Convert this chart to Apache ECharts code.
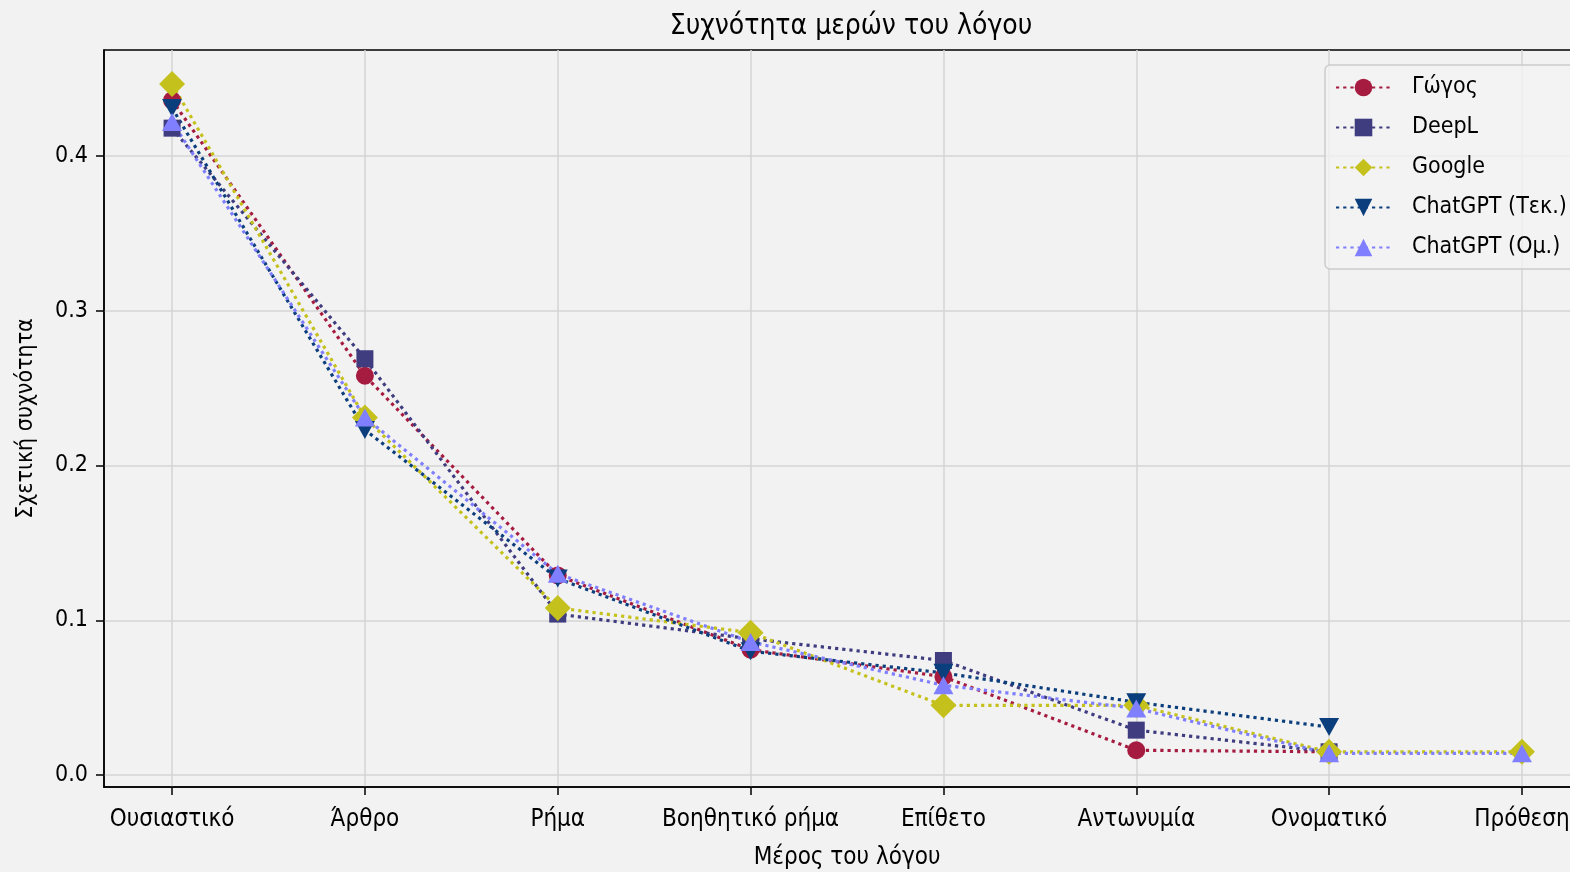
<!DOCTYPE html>
<html>
<head>
<meta charset="utf-8">
<script src="https://cdn.jsdelivr.net/npm/echarts@6/dist/echarts.min.js"></script>
<style>
html,body{margin:0;padding:0;background:#f2f2f2;}
#chart{width:1570px;height:872px;}
</style>
</head>
<body>
<div id="chart"></div>
<script>
const categories = ['Ουσιαστικό','Άρθρο','Ρήμα','Βοηθητικό ρήμα','Επίθετο','Αντωνυμία','Ονοματικό','Πρόθεση'];
const yTicks = [0, 0.1, 0.2, 0.3, 0.4];
const gogos   = [0.436, 0.258, 0.129, 0.081, 0.0635, 0.016, 0.015, null];
const deepl   = [0.418, 0.269, 0.104, 0.088, 0.074, 0.029, 0.015, null];
const google  = [0.4465, 0.231, 0.108, 0.092, 0.045, 0.045, 0.015, 0.015];
const gptTek  = [0.431, 0.223, 0.127, 0.080, 0.066, 0.047, 0.031, null];
const gptOm   = [0.422, 0.231, 0.130, 0.086, 0.058, 0.043, 0.014, 0.014];

const FONT = "'Liberation Sans Narrow', 'DejaVu Sans Condensed', 'Noto Sans', sans-serif";

function pairs(arr){
  const out = [];
  arr.forEach((v,i)=>{ if(v!==null) out.push([i,v]); });
  return out;
}
function mk(name, arr, color, symbol, size, rotate){
  return {
    name: name, type: 'line', data: pairs(arr),
    symbol: symbol, symbolSize: size, symbolRotate: rotate || 0,
    showAllSymbol: true,
    lineStyle: {color: color, width: 3.2, type: [3.2, 4], cap: 'butt'},
    itemStyle: {color: color},
    emphasis: {disabled: true},
    animation: false
  };
}

const chart = echarts.init(document.getElementById('chart'), null, {renderer:'canvas'});
chart.setOption({
  backgroundColor: '#f2f2f2',
  animation: false,
  textStyle: {fontFamily: FONT},
  title: {
    text: 'Συχνότητα μερών του λόγου',
    left: 846, top: 8, textAlign: 'center',
    textStyle: {fontFamily: FONT, fontSize: 28, fontWeight: 'normal', color: '#000'}
  },
  grid: {
    left: 104, top: 50, width: 1486, height: 737,
    outerBoundsMode: 'none',
    show: true, borderColor: '#000', borderWidth: 1.5, backgroundColor: '#f2f2f2',
    containLabel: false
  },
  legend: {
    left: 1325, top: 65, orient: 'vertical',
    itemWidth: 55, itemHeight: 22, itemGap: 17,
    padding: [11, 12, 10, 10],
    backgroundColor: 'rgba(242,242,242,0.8)', borderColor: '#cccccc', borderWidth: 1.5, borderRadius: 5,
    textStyle: {fontFamily: FONT, fontSize: 23, color: '#000', padding: [0,0,0,16]},
    data: ['Γώγος','DeepL','Google','ChatGPT (Τεκ.)','ChatGPT (Ομ.)']
  },
  xAxis: {
    type: 'value', min: -0.353, max: 7.353,
    name: 'Μέρος του λόγου', nameLocation: 'middle', nameGap: 59,
    nameTextStyle: {fontFamily: FONT, fontSize: 24, color: '#000'},
    axisLine: {show: true, onZero: false, lineStyle: {color: '#000', width: 1.5}},
    axisTick: {show: true, length: 8, lineStyle: {color: '#000', width: 1.5}, customValues: [0,1,2,3,4,5,6,7]},
    axisLabel: {customValues: [0,1,2,3,4,5,6,7], fontFamily: FONT, fontSize: 24, color: '#000', margin: 21,
      hideOverlap: false, formatter: v => categories[Math.round(v)] || ''},
    splitLine: {show: true, lineStyle: {color: '#d4d4d4', width: 1.5}}
  },
  yAxis: {
    type: 'value', min: -0.00775, max: 0.4685,
    name: 'Σχετική συχνότητα', nameLocation: 'middle', nameGap: 66,
    nameTextStyle: {fontFamily: FONT, fontSize: 23, color: '#000'},
    axisLine: {show: true, onZero: false, lineStyle: {color: '#000', width: 1.5}},
    axisTick: {show: true, length: 8, lineStyle: {color: '#000', width: 1.5}, customValues: yTicks},
    axisLabel: {customValues: yTicks, fontFamily: FONT, fontSize: 23, color: '#000', margin: 16,
      formatter: v => v.toFixed(1)},
    splitLine: {show: true, lineStyle: {color: '#d4d4d4', width: 1.5}}
  },
  series: [
    mk('Γώγος', gogos, '#a51c40', 'circle', 18),
    mk('DeepL', deepl, '#3f3d7f', 'rect', 17),
    mk('Google', google, '#c5c11c', 'diamond', 26),
    mk('ChatGPT (Τεκ.)', gptTek, '#0b3e7c', 'triangle', [20,18], 180),
    mk('ChatGPT (Ομ.)', gptOm, '#7f7fff', 'triangle', [20,18])
  ]
});
</script>
</body>
</html>
